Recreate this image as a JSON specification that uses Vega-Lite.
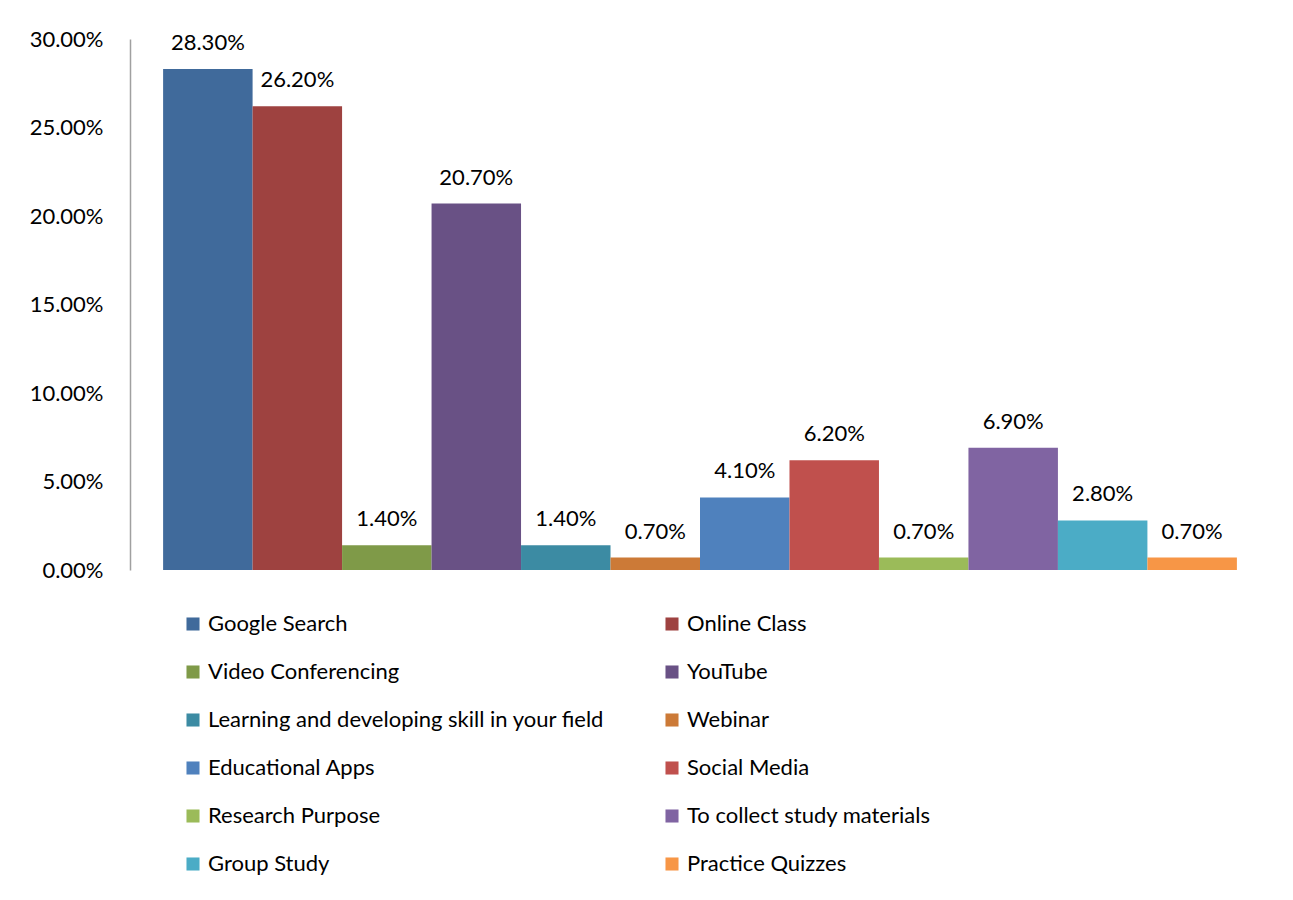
{
  "$schema": "https://vega.github.io/schema/vega-lite/v6.json",
  "autosize": {"type": "none"},
  "width": 1140,
  "height": 531,
  "padding": {"left": 130, "top": 39, "right": 23, "bottom": 330},
  "background": "white",
  "config": {
    "view": {"stroke": null},
    "font": "Lato",
    "text": {"font": "Lato"}
  },
  "data": {
    "values": [
      {"category": "Google Search", "value": 0.283},
      {"category": "Online Class", "value": 0.262},
      {"category": "Video Conferencing", "value": 0.014},
      {"category": "YouTube", "value": 0.207},
      {"category": "Learning and developing skill in your field", "value": 0.014},
      {"category": "Webinar", "value": 0.007},
      {"category": "Educational Apps", "value": 0.041},
      {"category": "Social Media", "value": 0.062},
      {"category": "Research Purpose", "value": 0.007},
      {"category": "To collect study materials", "value": 0.069},
      {"category": "Group Study", "value": 0.028},
      {"category": "Practice Quizzes", "value": 0.007}
    ]
  },
  "encoding": {
    "x": {
      "field": "category",
      "type": "nominal",
      "sort": null,
      "axis": null,
      "scale": {"paddingInner": 0, "paddingOuter": 0.37}
    },
    "y": {
      "field": "value",
      "type": "quantitative",
      "scale": {"domain": [0, 0.3], "nice": false, "zero": true},
      "axis": {
        "title": null,
        "format": ".2%",
        "values": [0, 0.05, 0.1, 0.15, 0.2, 0.25, 0.3],
        "grid": false,
        "ticks": false,
        "labelPadding": 27,
        "labelFontSize": 22,
        "labelColor": "#000000",
        "labelFont": "Lato",
        "domainColor": "#a0a0a0",
        "domainWidth": 1.5
      }
    }
  },
  "layer": [
    {
      "mark": {"type": "bar", "strokeWidth": 0},
      "encoding": {
        "color": {
          "field": "category",
          "type": "nominal",
          "sort": null,
          "scale": {
            "domain": ["Google Search", "Online Class", "Video Conferencing", "YouTube", "Learning and developing skill in your field", "Webinar", "Educational Apps", "Social Media", "Research Purpose", "To collect study materials", "Group Study", "Practice Quizzes"],
            "range": ["#406A9B", "#9E4240", "#7F9A48", "#695185", "#3C8BA3", "#CC7A37", "#4F81BD", "#C0504D", "#9BBB59", "#8064A2", "#4BACC6", "#F79646"]
          },
          "legend": {
            "title": null,
            "orient": "none",
            "legendX": 52,
            "legendY": 574,
            "columns": 2,
            "direction": "horizontal",
            "symbolType": "square",
            "symbolSize": 170,
            "symbolStrokeWidth": 0,
            "symbolOpacity": 1,
            "labelFontSize": 22,
            "labelFont": "Lato",
            "labelColor": "#000000",
            "labelOffset": 4,
            "labelLimit": 600,
            "rowPadding": 26,
            "columnPadding": 56
          }
        }
      }
    },
    {
      "mark": {"type": "text", "baseline": "middle", "align": "center", "dy": -26, "fontSize": 22, "font": "Lato", "color": "#000000"},
      "encoding": {
        "text": {"field": "value", "type": "quantitative", "format": ".2%"}
      }
    }
  ]
}
